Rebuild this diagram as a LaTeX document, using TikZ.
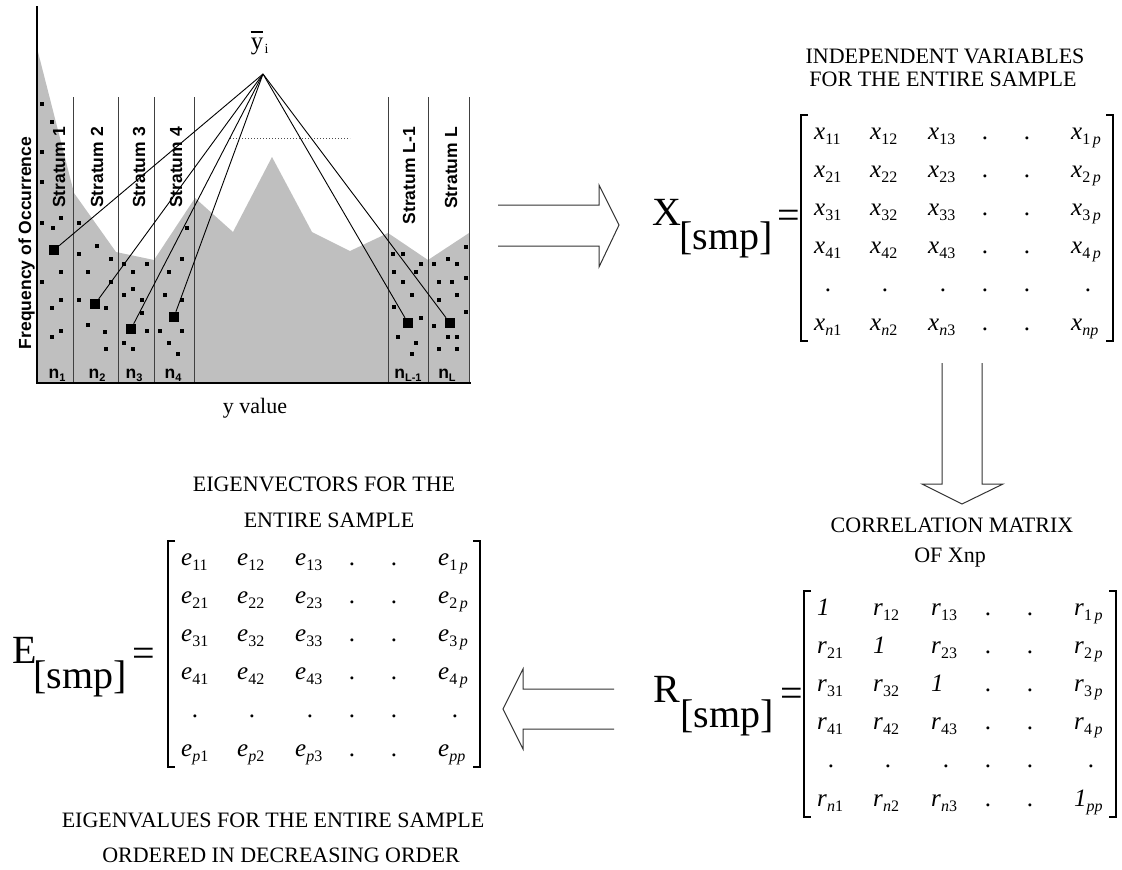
\documentclass[tikz,border=0pt]{standalone}
\usepackage{fontspec}
\setmainfont{Liberation Serif}
\newfontfamily\hvfont{Liberation Sans}
\newcommand\fs[1]{\fontsize{#1}{#1}\selectfont}
\newcommand\ssub[1]{\raisebox{-5.5pt}{\fs{16}#1}}
\newcommand\mrow[6]{%
  \node[ent] (#1a) at (13,#2) {#3};
  \node[ent] (#1b) at (69,#2) {#4};
  \node[ent] (#1c) at (127,#2) {#5};
  \node[mdot] (#1d) at (184,#2) {.};
  \node[mdot] (#1e) at (226,#2) {.};
  \node[ent] (#1f) at (270,#2) {#6};}
\newcommand\drow[2]{%
  \node[mdot] (#1a) at (27,#2) {.};
  \node[mdot] (#1b) at (84,#2) {.};
  \node[mdot] (#1c) at (142,#2) {.};
  \node[mdot] (#1d) at (184,#2) {.};
  \node[mdot] (#1e) at (226,#2) {.};
  \node[mdot] (#1f) at (287,#2) {.};}
\newcommand\brackets{%
  \draw[brk] (7,0) -- (0,0) -- (0,226) -- (7,226);
  \draw[brk] (305,0) -- (312,0) -- (312,226) -- (305,226);}
\newcommand\ip{\textit{p}}
\begin{document}
\begin{tikzpicture}[x=1pt,y=-1pt,
  ent/.style={anchor=base west,inner sep=0pt,font=\fs{25}},
  mdot/.style={anchor=base,inner sep=0pt,font=\fs{25}},
  brk/.style={line width=1.5pt},
  captxt/.style={anchor=base,inner sep=0pt,font=\fs{22}},
  bigtxt/.style={anchor=base west,inner sep=0pt,font=\fs{40}},
  hvb/.style={inner sep=0pt,font=\hvfont\bfseries\fs{17.5}},
  strat/.style={hvb,rotate=90,anchor=base east},
  nlab/.style={hvb,anchor=base},
  bigsq/.style={fill=black,minimum size=10pt,inner sep=0pt},
  sline/.style={draw=black!75,line width=1pt},
  hollow/.style={line width=1pt,draw=black!80,line join=miter}]
\useasboundingbox (0,0) rectangle (1122,870);

% ---------------- histogram ----------------
\fill[gray!50] (37,383) -- (37,48) -- (74,193) -- (116,252) -- (154,260) -- (195,198)
  -- (233,232) -- (272,157) -- (312,232) -- (350,251) -- (388,233) -- (428,260)
  -- (469,233) -- (469,383) -- cycle;
\foreach \xx in {73,118,154,194,388,428,469}
  \draw[sline] (\xx,97) -- (\xx,383);
\draw[line width=2.5pt] (37,6) -- (37,383) -- (471,383);
\draw[dotted,line width=1pt,black!70] (230,138) -- (350,138);

\foreach \xx/\yy in {42/104,52/122,42/152,42/182,42/223,61/218,53/228,61/272,42/282,61/300,52/308,61/331,52/337,
  79/223,97/246,79/254,111/259,88/272,111/282,79/300,106/308,88/325,105/332,106/349,
  124/264,147/264,133/272,124/295,133/289,142/300,142/313,147/331,124/343,133/349,
  187/228,182/259,169/272,165/295,182/300,160/331,182/331,169/343,178/354,
  393/254,403/254,421/264,394/272,416/272,403/282,412/295,394/307,421/318,398/337,416/343,412/354,
  434/264,448/259,457/264,466/247,439/282,452/282,466/278,439/300,457/295,466/312,434/326,448/337,457/337,439/349,457/349}
  \fill (\xx-2,\yy-2) rectangle (\xx+2,\yy+2);

\node[bigsq] (b1) at (54,250) {};
\node[bigsq] (b2) at (95,304) {};
\node[bigsq] (b3) at (131,329) {};
\node[bigsq] (b4) at (174,317) {};
\node[bigsq] (b5) at (408,323) {};
\node[bigsq] (b6) at (450,323) {};

\coordinate (apex) at (263,74);
\foreach \b in {b1,b2,b3,b4,b5,b6}
  \draw[line width=0.9pt] (apex) -- (\b);

\node[anchor=base,inner sep=0pt,font=\fs{25}] (ybar) at (257,49) {y};
\draw[line width=1.3pt] (250.5,32) -- (263,32);
\node[anchor=base west,inner sep=0pt,font=\fs{14}] (ysub) at (264.5,53) {i};

\node[strat] (s1) at (65,127) {Stratum 1};
\node[strat] (s2) at (103,127) {Stratum 2};
\node[strat] (s3) at (145,127) {Stratum 3};
\node[strat] (s4) at (182,127) {Stratum 4};
\node[strat] (s5) at (415,127) {Stratum L-1};
\node[strat] (s6) at (457,127) {Stratum L};

\node[hvb,rotate=90,anchor=base] (freq) at (31,243) {Frequency of Occurrence};

\node[nlab] (n1) at (57,378) {n\raisebox{-3pt}{\fs{11}1}};
\node[nlab] (n2) at (97,378) {n\raisebox{-3pt}{\fs{11}2}};
\node[nlab] (n3) at (134,378) {n\raisebox{-3pt}{\fs{11}3}};
\node[nlab] (n4) at (173,378) {n\raisebox{-3pt}{\fs{11}4}};
\node[nlab] (n5) at (408,378) {n\raisebox{-3pt}{\fs{11}L-1}};
\node[nlab] (n6) at (447,378) {n\raisebox{-3pt}{\fs{11}L}};

\node[captxt] (yval) at (255,413) {y value};

% ---------------- arrows ----------------
\draw[hollow] (498,205) -- (599,205) -- (599,185) -- (619,225) -- (599,267) -- (599,246) -- (498,246);
\draw[hollow] (942,363) -- (942,484) -- (922,484) -- (962,504) -- (1003,484) -- (982,484) -- (982,363);
\draw[hollow] (614,689) -- (523,689) -- (523,669) -- (503,709) -- (523,749) -- (523,729) -- (614,729);

% ---------------- captions ----------------
\node[captxt] (t1) at (945,63) {INDEPENDENT VARIABLES};
\node[captxt] (t2) at (943,86) {FOR THE ENTIRE SAMPLE};
\node[captxt] (t3) at (952,532) {CORRELATION MATRIX};
\node[captxt] (t4) at (950,562) {OF Xnp};
\node[captxt] (t5) at (324,491) {EIGENVECTORS FOR THE};
\node[captxt] (t6) at (329,527) {ENTIRE SAMPLE};
\node[captxt] (t7) at (273,827) {EIGENVALUES FOR THE ENTIRE SAMPLE};
\node[captxt] (t8) at (281,862) {ORDERED IN DECREASING ORDER};

% ---------------- X matrix ----------------
\node[bigtxt] (Xl) at (652,225) {X};
\node[bigtxt] (Xs) at (679,249) {[smp]};
\node[bigtxt] (Xe) at (777,228) {=};
\begin{scope}[shift={(801,115)}]
\brackets
\mrow{xa}{24}{\textit{x}\ssub{11}}{\textit{x}\ssub{12}}{\textit{x}\ssub{13}}{\textit{x}\ssub{1\,\ip}}
\mrow{xb}{62}{\textit{x}\ssub{21}}{\textit{x}\ssub{22}}{\textit{x}\ssub{23}}{\textit{x}\ssub{2\,\ip}}
\mrow{xc}{100}{\textit{x}\ssub{31}}{\textit{x}\ssub{32}}{\textit{x}\ssub{33}}{\textit{x}\ssub{3\,\ip}}
\mrow{xd}{138}{\textit{x}\ssub{41}}{\textit{x}\ssub{42}}{\textit{x}\ssub{43}}{\textit{x}\ssub{4\,\ip}}
\drow{xe}{176}
\mrow{xf}{215}{\textit{x}\ssub{\textit{n}1}}{\textit{x}\ssub{\textit{n}2}}{\textit{x}\ssub{\textit{n}3}}{\textit{x}\ssub{\textit{np}}}
\end{scope}

% ---------------- R matrix ----------------
\node[bigtxt] (Rl) at (653,702) {R};
\node[bigtxt] (Rs) at (680,727) {[smp]};
\node[bigtxt] (Re) at (780,706) {=};
\begin{scope}[shift={(804,591)}]
\brackets
\mrow{ra}{24}{\textit{1}}{\textit{r}\ssub{12}}{\textit{r}\ssub{13}}{\textit{r}\ssub{1\,\ip}}
\mrow{rb}{62}{\textit{r}\ssub{21}}{\textit{1}}{\textit{r}\ssub{23}}{\textit{r}\ssub{2\,\ip}}
\mrow{rc}{100}{\textit{r}\ssub{31}}{\textit{r}\ssub{32}}{\textit{1}}{\textit{r}\ssub{3\,\ip}}
\mrow{rd}{138}{\textit{r}\ssub{41}}{\textit{r}\ssub{42}}{\textit{r}\ssub{43}}{\textit{r}\ssub{4\,\ip}}
\drow{re}{176}
\mrow{rf}{215}{\textit{r}\ssub{\textit{n}1}}{\textit{r}\ssub{\textit{n}2}}{\textit{r}\ssub{\textit{n}3}}{\textit{1}\ssub{\textit{pp}}}
\end{scope}

% ---------------- E matrix ----------------
\node[bigtxt] (El) at (12,663) {E};
\node[bigtxt] (Es) at (33,688) {[smp]};
\node[bigtxt] (Ee) at (132,666) {=};
\begin{scope}[shift={(168,541)}]
\brackets
\mrow{ea}{24}{\textit{e}\ssub{11}}{\textit{e}\ssub{12}}{\textit{e}\ssub{13}}{\textit{e}\ssub{1\,\ip}}
\mrow{eb}{62}{\textit{e}\ssub{21}}{\textit{e}\ssub{22}}{\textit{e}\ssub{23}}{\textit{e}\ssub{2\,\ip}}
\mrow{ec}{100}{\textit{e}\ssub{31}}{\textit{e}\ssub{32}}{\textit{e}\ssub{33}}{\textit{e}\ssub{3\,\ip}}
\mrow{ed}{138}{\textit{e}\ssub{41}}{\textit{e}\ssub{42}}{\textit{e}\ssub{43}}{\textit{e}\ssub{4\,\ip}}
\drow{ee}{176}
\mrow{ef}{215}{\textit{e}\ssub{\ip1}}{\textit{e}\ssub{\ip2}}{\textit{e}\ssub{\ip3}}{\textit{e}\ssub{\textit{pp}}}
\end{scope}
\end{tikzpicture}
\end{document}
